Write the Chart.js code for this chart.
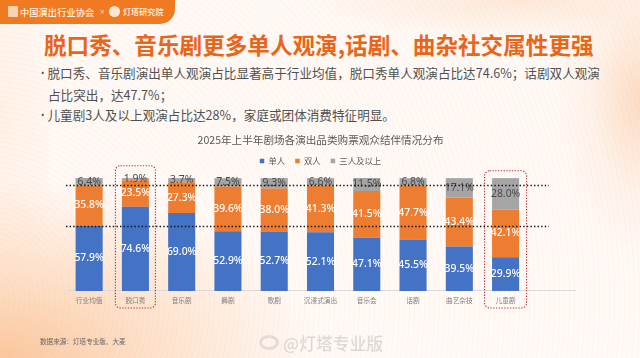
<!DOCTYPE html>
<html lang="zh"><head><meta charset="utf-8">
<script src="https://cdn.jsdelivr.net/npm/chart.js@4"></script>
<style>
html,body{margin:0;padding:0}
body{width:640px;height:358px;overflow:hidden;position:relative;font-family:"Noto Sans CJK SC","Noto Sans",sans-serif;
background:
 repeating-radial-gradient(circle at -20px 300px,rgba(255,255,255,0) 0 4px,rgba(240,140,80,.05) 4px 5px),
 radial-gradient(ellipse 320px 180px at 0px 358px,#fbc79c 0%,rgba(252,215,185,.75) 45%,rgba(255,240,230,0) 100%),
 radial-gradient(ellipse 90px 170px at 640px 100px,#fcdcc4 0%,rgba(253,235,222,.5) 55%,rgba(255,255,255,0) 100%),
 radial-gradient(ellipse 220px 40px at 520px 0px,#fde8d8 0%,rgba(255,245,238,0) 100%),
 radial-gradient(ellipse 60px 200px at 0px 120px,#fff0e5 0%,rgba(255,245,238,0) 100%),
 linear-gradient(#fff9f5,#fffaf7);}
canvas{position:absolute;left:0;top:0}
.a{position:absolute;white-space:nowrap}
#tab{left:0;top:0;width:175px;height:24px;background:#f07a22;border-bottom-right-radius:15px}
#logo1{left:8px;top:6px;width:10px;height:11px;background:#f9d3b0;border-radius:1px}
#org{left:20px;top:4px;font:500 9.2px/16px "Noto Sans CJK SC";color:#fff3e8;letter-spacing:.1px}
#x{left:100px;top:4px;font:8px/16px "Noto Sans";color:#fbd5b5}
#logo2{left:109px;top:6px;width:11px;height:11px;border-radius:50%;background:#fde6d3}
#org2{left:123px;top:4px;font:500 8.1px/16px "Noto Sans CJK SC";color:#fff3e8}
#title{left:44px;top:29px;font:700 22.6px/32px "Noto Sans CJK SC";color:#e8651a}
.b{font:400 12.6px/20px "Noto Sans CJK SC";color:#505050}
.d{font:400 9px/20px "Noto Sans";color:#505050}
#src{left:40px;top:335px;font:6.6px/12px "Noto Sans CJK SC";color:#666}
#wm{left:283px;top:331px;font:500 16.5px/24px "Noto Sans CJK SC";color:#dcd8d5;letter-spacing:.3px}
#wb{left:259px;top:335px;width:20px;height:15px;border-radius:50%;border:3px solid #e0dcd8;box-sizing:border-box}
</style></head><body>
<div class="a" id="tab"></div><div class="a" id="logo1"></div>
<div class="a" id="org">中国演出行业协会</div><div class="a" id="x">×</div><div class="a" id="logo2"></div>
<div class="a" id="org2">灯塔研究院</div>
<div class="a" id="title">脱口秀、音乐剧更多单人观演,话剧、曲杂社交属性更强</div>
<div class="a d" style="left:41px;top:63px">•</div>
<div class="a b" style="left:47.5px;top:63px">脱口秀、音乐剧演出单人观演占比显著高于行业均值，脱口秀单人观演占比达74.6%；话剧双人观演</div>
<div class="a b" style="left:48px;top:85px">占比突出，达47.7%；</div>
<div class="a d" style="left:41px;top:105px">•</div>
<div class="a b" style="left:47.5px;top:105px">儿童剧3人及以上观演占比达28%，家庭或团体消费特征明显。</div>
<canvas id="c" width="640" height="358"></canvas>
<div class="a" id="src">数据来源：灯塔专业版、大麦</div>
<div class="a" id="wb"></div><div class="a" id="wm">@灯塔专业版</div>
<script>
const chartTitle = '2025年上半年剧场各演出品类购票观众结伴情况分布';
const categories = ['行业均值','脱口秀','音乐剧','舞剧','歌剧','沉浸式演出','音乐会','话剧','曲艺杂技','儿童剧',''];
const seriesNames = ['单人','双人','三人及以上'];
const single = [57.9,74.6,69.0,52.9,52.7,52.1,47.1,45.5,39.5,29.9,null];
const double = [35.8,23.5,27.3,39.6,38.0,41.3,41.5,47.7,43.4,42.1,null];
const group  = [6.4,1.9,3.7,7.5,9.3,6.6,11.5,6.8,17.1,28.0,null];
const referenceLevels = [57.9,93.7];
const highlighted = ['脱口秀','儿童剧'];

const overlay = {
  id:'overlay',
  beforeInit(chart){
    const fit=chart.legend.fit;
    chart.legend.fit=function(){fit.call(this);this.height+=3;};
  },
  afterDatasetsDraw(chart){
    const {ctx,scales:{x,y},chartArea:a} = chart;
    ctx.save();
    ctx.textAlign='center';ctx.textBaseline='middle';
    chart.data.datasets.forEach((ds,i)=>{
      const meta=chart.getDatasetMeta(i);
      ds.data.forEach((v,j)=>{
        if(v==null) return;
        const el=meta.data[j];
        const cy=(el.y+el.base)/2;
        ctx.fillStyle=i===2?'#4a4a4a':'#ffffff';
        ctx.font=(i===2?'400':'500')+' 10.4px "Noto Sans"';
        ctx.fillText(v.toFixed(1)+'%',el.x,cy);
      });
    });
    ctx.strokeStyle='#111';ctx.lineWidth=1.4;ctx.setLineDash([1.4,2.2]);
    const end=x.getPixelForValue(10)-3;
    referenceLevels.forEach(v=>{
      const py=Math.round(y.getPixelForValue(v))+.5;
      ctx.beginPath();ctx.moveTo(a.left,py);ctx.lineTo(end,py);ctx.stroke();
    });
    ctx.strokeStyle='#b5303a';ctx.lineWidth=1.1;ctx.setLineDash([1.3,1.5]);
    highlighted.forEach((name,k)=>{
      const cx=x.getPixelForValue(categories.indexOf(name));
      const hw=k===0?20:21;
      const top=y.getPixelForValue(k===0?111:106.5);
      ctx.beginPath();ctx.roundRect(cx-hw,top,hw*2,a.bottom+17-top,5);ctx.stroke();
    });
    ctx.restore();
  }
};
new Chart(document.getElementById('c'),{
  type:'bar',
  plugins:[overlay],
  data:{labels:categories,datasets:[
    {label:seriesNames[0],data:single,backgroundColor:'#4472c4',barPercentage:.585,categoryPercentage:1},
    {label:seriesNames[1],data:double,backgroundColor:'#ed7d31',barPercentage:.585,categoryPercentage:1},
    {label:seriesNames[2],data:group,backgroundColor:'#a5a5a5',barPercentage:.585,categoryPercentage:1}
  ]},
  options:{
    responsive:false,animation:false,
    layout:{padding:{left:66,right:65,top:134,bottom:49}},
    scales:{
      x:{stacked:true,grid:{display:false,drawTicks:false},border:{color:'#d9d9d9'},
         ticks:{font:{size:6.7,family:'"Noto Sans CJK SC"'},color:'#7f7f7f',padding:5,maxRotation:0,autoSkip:false}},
      y:{stacked:true,min:0,max:100,display:false}
    },
    plugins:{
      title:{display:true,text:chartTitle,color:'#595959',font:{size:10.6,weight:'400',family:'"Noto Sans CJK SC"'},padding:{top:0,bottom:0}},
      legend:{display:true,position:'top',labels:{boxWidth:4.5,boxHeight:4.5,padding:10,color:'#595959',font:{size:8.4,family:'"Noto Sans CJK SC"'}}},
      tooltip:{enabled:false}
    }
  }
});
</script>
</body></html>
